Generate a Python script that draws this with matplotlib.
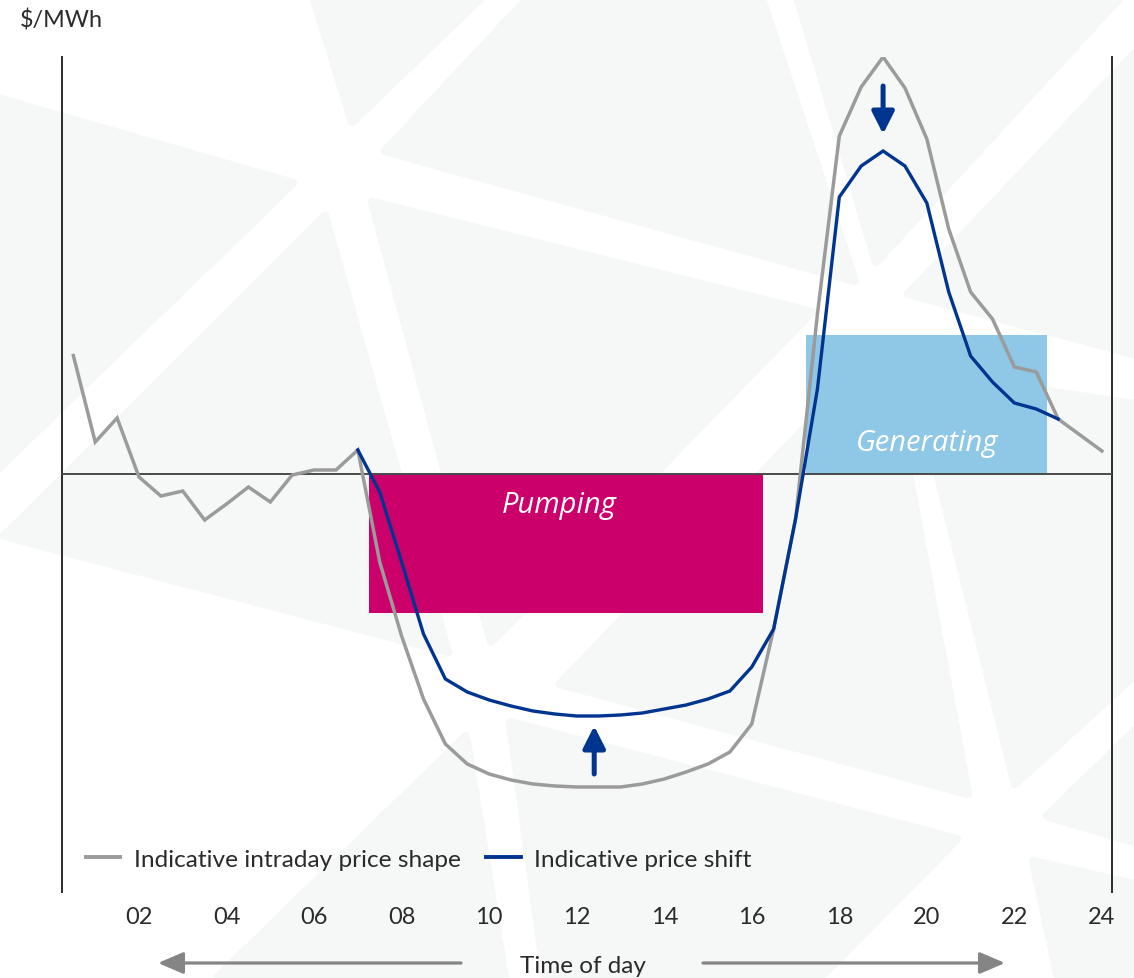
import numpy as np
import matplotlib
matplotlib.use("Agg")
import matplotlib.pyplot as plt
from matplotlib.patches import Polygon, Rectangle, FancyArrowPatch
from matplotlib.lines import Line2D

# ---- data -------------------------------------------------------------
HOURS = np.arange(0.5, 24.01, 0.5)            # half-hourly settlement periods

# indicative intraday price shape ($/MWh, arbitrary scale)
PRICE_SHAPE = [23.7, 6.4, 11.2, -0.6, -4.4, -3.4, -9.2, -6.0, -2.6, -5.6,
               -0.2, 0.8, 0.8, 4.8, -17.6, -32.4, -45.0, -54.0, -58.0, -60.0,
               -61.2, -62.0, -62.4, -62.6, -62.6, -62.6, -62.0, -61.0, -59.6, -58.0,
               -55.6, -50.0, -31.0, -9.0, 32.0, 67.6, 77.4, 83.4, 77.2, 67.0,
               49.0, 36.4, 31.0, 21.4, 20.4, 11.0, 7.8, 4.6]

# price shape after storage shifts load (07:00 - 23:00)
SHIFT_HOURS = np.arange(7.0, 23.01, 0.5)
PRICE_SHIFT = [4.8, -3.6, -17.6, -32.0, -41.0, -43.6, -45.2, -46.4, -47.4, -48.0,
               -48.4, -48.4, -48.2, -47.8, -47.0, -46.2, -45.0, -43.4, -38.6, -31.0,
               -9.0, 17.0, 55.4, 61.6, 64.6, 61.6, 54.2, 36.4, 23.6, 18.4,
               14.2, 13.0, 11.0]

# operating windows: (start hour, end hour, height)
PUMPING = (7.25, 16.25, -27.8)
GENERATING = (17.25, 22.75, 27.8)

# shift arrows: (hour, tail value, tip value)
PEAK_ARROW = (19.0, 77.6, 68.0)
TROUGH_ARROW = (12.4, -60.0, -50.4)

TICK_HOURS = [2, 4, 6, 8, 10, 12, 14, 16, 18, 20, 22, 24]
TICK_LABELS = ["02", "04", "06", "08", "10", "12", "14", "16", "18", "20", "22", "24"]

SERIES_NAMES = ["Indicative intraday price shape", "Indicative price shift"]

# ---- style ------------------------------------------------------------
GREY = "#9b9b9b"
NAVY = "#00358f"
MAGENTA = "#cc006b"
SKY = "#8fc7e6"
INK = "#2b2b2b"
PANEL = "#f6f7f7"

W, H = 1134, 979
fig = plt.figure(figsize=(W / 100, H / 100), dpi=100)
fig.patch.set_facecolor("white")

# faint geometric backdrop artwork (figure pixel space)
BACKDROP_SHAPES = [
    [(314, 0), (480, 0), (352, 123)],
    [(527, 0), (762, 0), (855, 282), (385, 152)],
    [(798, 0), (1119, 0), (876, 263)],
    [(1134, 55), (1134, 355), (908, 295)],
    [(0, 100), (293, 184), (0, 468)],
    [(325, 217), (448, 653), (4, 537)],
    [(372, 203), (812, 313), (491, 643)],
    [(885, 345), (968, 795), (560, 685)],
    [(912, 372), (1134, 405), (1134, 677), (1015, 785)],
    [(466, 737), (505, 979), (217, 979)],
    [(510, 723), (957, 840), (820, 979), (545, 979)],
    [(1047, 817), (1134, 732), (1134, 843)],
    [(1033, 862), (1134, 885), (1134, 979), (1058, 979)],
]
bg = fig.add_axes([0, 0, 1, 1], zorder=-5)
bg.set_xlim(0, W)
bg.set_ylim(H, 0)
bg.axis("off")
for pts in BACKDROP_SHAPES:
    bg.add_patch(Polygon(pts, closed=True, facecolor=PANEL, edgecolor=PANEL,
                         linewidth=6, joinstyle="round"))

# ---- main chart -------------------------------------------------------
ax = fig.add_axes([62 / W, 1 - 893 / H, (1112 - 62) / W, (893 - 58) / H])
ax.patch.set_alpha(0)
ax.set_xlim(0.241, 24.23)
ax.set_ylim(-83.6, 83.4)

for side in ("top", "bottom"):
    ax.spines[side].set_visible(False)
for side in ("left", "right"):
    ax.spines[side].set_color(INK)
    ax.spines[side].set_linewidth(1.4)

ax.set_yticks([])
ax.set_xticks(TICK_HOURS)
ax.set_xticklabels(TICK_LABELS, fontfamily="Lato", fontsize=17, color=INK)
ax.tick_params(axis="x", length=0, pad=10)

ax.axhline(0, color="#4a4a4a", lw=1.4, zorder=3)

ax.add_patch(Rectangle((PUMPING[0], 0), PUMPING[1] - PUMPING[0], PUMPING[2],
                       facecolor=MAGENTA, edgecolor="none", zorder=2))
ax.add_patch(Rectangle((GENERATING[0], 0), GENERATING[1] - GENERATING[0], GENERATING[2],
                       facecolor=SKY, edgecolor="none", zorder=2))

ax.text((PUMPING[0] + PUMPING[1]) / 2 - 0.15, PUMPING[2] * 0.22, "Pumping",
        fontfamily="Open Sans", style="italic", fontsize=21, color="white",
        ha="center", va="center", zorder=4)
ax.text((GENERATING[0] + GENERATING[1]) / 2, GENERATING[2] * 0.23, "Generating",
        fontfamily="Open Sans", style="italic", fontsize=21, color="white",
        ha="center", va="center", zorder=4)

ax.plot(HOURS, PRICE_SHAPE, color=GREY, lw=2.5, zorder=5, solid_joinstyle="miter")
ax.plot(SHIFT_HOURS, PRICE_SHIFT, color=NAVY, lw=2.4, zorder=6, solid_joinstyle="miter")

for hx, tail, tip in (PEAK_ARROW, TROUGH_ARROW):
    ax.annotate("", xy=(hx, tip), xytext=(hx, tail),
                arrowprops=dict(arrowstyle="-|>,head_length=0.95,head_width=0.48",
                                color=NAVY, lw=3.6, shrinkA=0, shrinkB=0,
                                mutation_scale=14),
                zorder=7)

handles = [Line2D([], [], color=GREY, lw=2.8), Line2D([], [], color=NAVY, lw=2.8)]
ax.legend(handles, SERIES_NAMES, loc="center left",
          bbox_to_anchor=(86 / W, 1 - 860 / H), bbox_transform=fig.transFigure,
          ncol=2, frameon=False, borderpad=0, borderaxespad=0,
          handlelength=1.4, handletextpad=0.55, columnspacing=1.05,
          prop={"family": "Lato", "size": 17.6}, labelcolor=INK)

# ---- surrounding labels ------------------------------------------------
fig.text(20 / W, 1 - 20 / H, "$/MWh", fontfamily="Lato", fontsize=16.8,
         color=INK, ha="left", va="center")
fig.text(583 / W, 1 - 967 / H, "Time of day", fontfamily="Lato", fontsize=17.5,
         color=INK, ha="center", va="center")

for x0, x1 in ((461, 158), (703, 1005)):
    fig.add_artist(FancyArrowPatch(
        (x0 / W, 1 - 964 / H), (x1 / W, 1 - 964 / H), transform=fig.transFigure,
        arrowstyle="-|>,head_length=1.4,head_width=0.6", mutation_scale=11,
        color="#858585", lw=2.3, shrinkA=0, shrinkB=0))

fig.savefig("out.png", dpi=100, facecolor="white")
